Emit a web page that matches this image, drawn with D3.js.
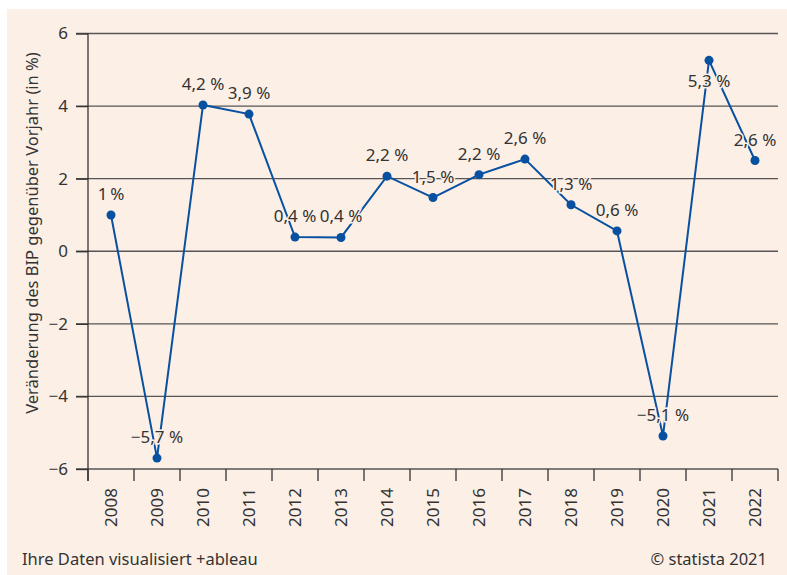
<!DOCTYPE html>
<html>
<head>
<meta charset="utf-8">
<script src="https://cdn.jsdelivr.net/npm/d3@7"></script>
<style>
  body { margin: 0; background: #ffffff; }
  svg { display: block; font-family: "Noto Sans", sans-serif; }
</style>
</head>
<body>
<div id="grafik"></div>
<script>
// Daten: BIP-Veränderung gegenüber Vorjahr
const jahre = ["2008", "2009", "2010", "2011", "2012", "2013", "2014", "2015",
               "2016", "2017", "2018", "2019", "2020", "2021", "2022"];
const werte = [1.0, -5.7, 4.03, 3.78, 0.39, 0.38, 2.07, 1.48,
               2.11, 2.54, 1.28, 0.56, -5.09, 5.26, 2.5];
const beschriftungen = ["1\u2009%", "\u22125,7 %", "4,2 %", "3,9 %", "0,4 %", "0,4 %", "2,2 %", "1,5 %",
                        "2,2 %", "2,6 %", "1,3 %", "0,6 %", "\u22125,1 %", "5,3 %", "2,6 %"];
const yTicks = [-6, -4, -2, 0, 2, 4, 6];
const labelUnten = ["2021"]; // Beschriftung unter dem Punkt

const breite = 787, hoehe = 575;
const hinterGrund = "#fcefe6";
const blau = "#0850a0";
const textFarbe = "#333333";

const svg = d3.select("#grafik").append("svg")
  .attr("width", breite)
  .attr("height", hoehe);

// Hintergrund
svg.append("rect")
  .attr("x", 7).attr("y", 9)
  .attr("width", breite - 7).attr("height", hoehe - 9)
  .attr("fill", hinterGrund);

// Skalen
const x = d3.scaleBand().domain(jahre).range([88, 778]);
const y = d3.scaleLinear().domain([-6, 6]).range([469, 33.5]);

// Gitterlinien
svg.append("g")
  .selectAll("line")
  .data(yTicks)
  .join("line")
  .attr("x1", 76).attr("x2", 778)
  .attr("y1", d => y(d)).attr("y2", d => y(d))
  .attr("stroke", "#555")
  .attr("stroke-width", 1.3);

// Y-Achse
const yAchse = svg.append("g")
  .attr("transform", "translate(88,0)")
  .call(d3.axisLeft(y).tickValues(yTicks).tickSize(12).tickPadding(8)
    .tickFormat(d => d < 0 ? "\u2212" + Math.abs(d) : d));
yAchse.select(".domain").attr("stroke", "#333").attr("stroke-width", 1.3)
  .attr("d", "M0,33.5V481");
yAchse.selectAll(".tick line").attr("stroke", "#333").attr("stroke-width", 1.3);
yAchse.selectAll("text").attr("font-size", 17).attr("fill", textFarbe)
  .attr("font-family", "'Noto Sans', sans-serif");

// X-Achse: Ticks an den Bandgrenzen
const grenzen = jahre.map(j => x(j)).concat([x.range()[1]]);
svg.append("g")
  .selectAll("line")
  .data(grenzen)
  .join("line")
  .attr("x1", d => d).attr("x2", d => d)
  .attr("y1", y(-6)).attr("y2", y(-6) + 12)
  .attr("stroke", "#333")
  .attr("stroke-width", 1.3);

svg.append("g")
  .selectAll("text")
  .data(jahre)
  .join("text")
  .attr("transform", d => `translate(${x(d) + x.bandwidth() / 2 + 6},488) rotate(-90)`)
  .attr("text-anchor", "end")
  .attr("font-size", 17)
  .attr("fill", textFarbe)
  .text(d => d);

// Achsentitel
svg.append("text")
  .attr("transform", "translate(38,233) rotate(-90)")
  .attr("text-anchor", "middle")
  .attr("font-size", 16.5)
  .attr("fill", textFarbe)
  .text("Veränderung des BIP gegenüber Vorjahr (in %)");

// Linie
const linie = d3.line()
  .x((d, i) => x(jahre[i]) + x.bandwidth() / 2)
  .y(d => y(d));

svg.append("path")
  .datum(werte)
  .attr("d", linie)
  .attr("fill", "none")
  .attr("stroke", blau)
  .attr("stroke-width", 2);

// Beschriftungen mit Halo
svg.append("g")
  .selectAll("text")
  .data(werte)
  .join("text")
  .attr("x", (d, i) => x(jahre[i]) + x.bandwidth() / 2)
  .attr("y", (d, i) => labelUnten.includes(jahre[i]) ? y(d) + 27 : y(d) - 15)
  .attr("text-anchor", "middle")
  .attr("font-size", 17)
  .attr("fill", textFarbe)
  .attr("stroke", hinterGrund)
  .attr("stroke-width", 3)
  .attr("paint-order", "stroke")
  .text((d, i) => beschriftungen[i]);

// Punkte
svg.append("g")
  .selectAll("circle")
  .data(werte)
  .join("circle")
  .attr("cx", (d, i) => x(jahre[i]) + x.bandwidth() / 2)
  .attr("cy", d => y(d))
  .attr("r", 4.5)
  .attr("fill", blau);

// Fußzeile
svg.append("text")
  .attr("x", 22).attr("y", 565)
  .attr("font-size", 16.5)
  .attr("fill", textFarbe)
  .text("Ihre Daten visualisiert +ableau");

svg.append("text")
  .attr("x", 767).attr("y", 565)
  .attr("text-anchor", "end")
  .attr("font-size", 16.5)
  .attr("fill", textFarbe)
  .text("© statista 2021");
</script>
</body>
</html>
